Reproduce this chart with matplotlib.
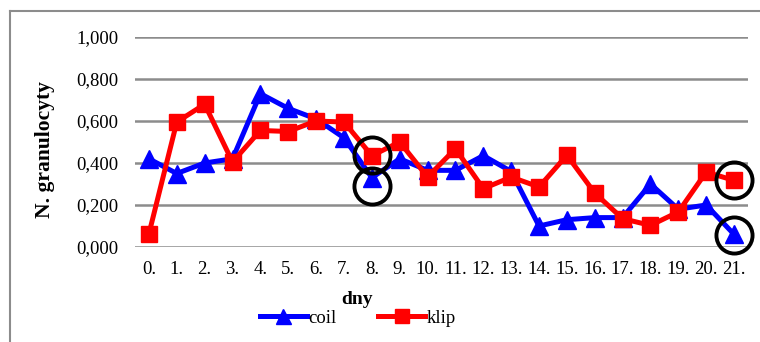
import matplotlib
matplotlib.use("Agg")
import matplotlib.pyplot as plt
from matplotlib.lines import Line2D
from matplotlib.ticker import FuncFormatter

plt.rcParams['font.family'] = ['Liberation Serif', 'DejaVu Serif']

days = [f"{i}." for i in range(22)]
coil = [0.42, 0.35, 0.40, 0.42, 0.73, 0.66, 0.61, 0.52, 0.33, 0.42, 0.365, 0.365,
        0.435, 0.36, 0.10, 0.13, 0.14, 0.14, 0.30, 0.18, 0.20, 0.06]
klip = [0.063, 0.595, 0.68, 0.405, 0.555, 0.55, 0.60, 0.595, 0.435, 0.50, 0.333, 0.468,
        0.278, 0.333, 0.286, 0.437, 0.257, 0.135, 0.103, 0.167, 0.357, 0.317]
# highlighted points (day index, value)
mark_x = [8, 8, 21, 21]
mark_y = [0.44, 0.29, 0.32, 0.057]

fig = plt.figure(figsize=(7.6, 3.42), dpi=100)
ax = fig.add_axes([135/760, 1-247/342, (748-135)/760, (247-37)/342])

x = list(range(len(days)))
ax.plot(x, coil, color='#0000FF', lw=3.6, marker='^', ms=13.5, mew=1, label='coil',
        zorder=3)
ax.plot(x, klip, color='#FF0000', lw=3.6, marker='s', ms=12, mew=1, label='klip',
        zorder=4)
ax.plot(mark_x, mark_y, ls='none', marker='o', ms=26, mfc='none', mec='black',
        mew=2.8, zorder=5, clip_on=False)

ax.set_xlim(-0.5, len(days) - 0.5)
ax.set_ylim(0, 1.0)
ax.set_yticks([0, 0.2, 0.4, 0.6, 0.8, 1.0])
ax.yaxis.set_major_formatter(FuncFormatter(lambda v, p: f"{v:.3f}".replace('.', ',')))
ax.set_xticks(x)
ax.set_xticklabels(days)
ax.tick_params(axis='both', length=0, labelsize=13.5)
ax.tick_params(axis='y', pad=12)
ax.tick_params(axis='x', pad=10)
ax.grid(axis='y', color='#8c8c8c', lw=1.8)
ax.set_axisbelow(True)
for s in ax.spines.values():
    s.set_visible(False)

fig.text(45/760, 1-150/342, 'N. granulocyty', rotation=90, ha='center', va='center',
         fontsize=15.5, fontweight='bold')
fig.text(357/760, 1-299/342, 'dny', ha='center', va='center', fontsize=14,
         fontweight='bold')

leg = fig.legend(loc='center', bbox_to_anchor=(358/760, 1-318/342), ncol=2,
                 frameon=False, fontsize=13.5, handlelength=2.5, handletextpad=0.1,
                 columnspacing=2.2, borderpad=0, markerscale=0.8)

# outer frame (left and top edges)
fig.add_artist(Line2D([10/760, 10/760], [0, 1-11/342], color='#8c8c8c', lw=1.5,
                      transform=fig.transFigure))
fig.add_artist(Line2D([10/760, 1], [1-11/342, 1-11/342], color='#8c8c8c', lw=1.5,
                      transform=fig.transFigure))

fig.savefig('out.png', dpi=100, facecolor='white')
